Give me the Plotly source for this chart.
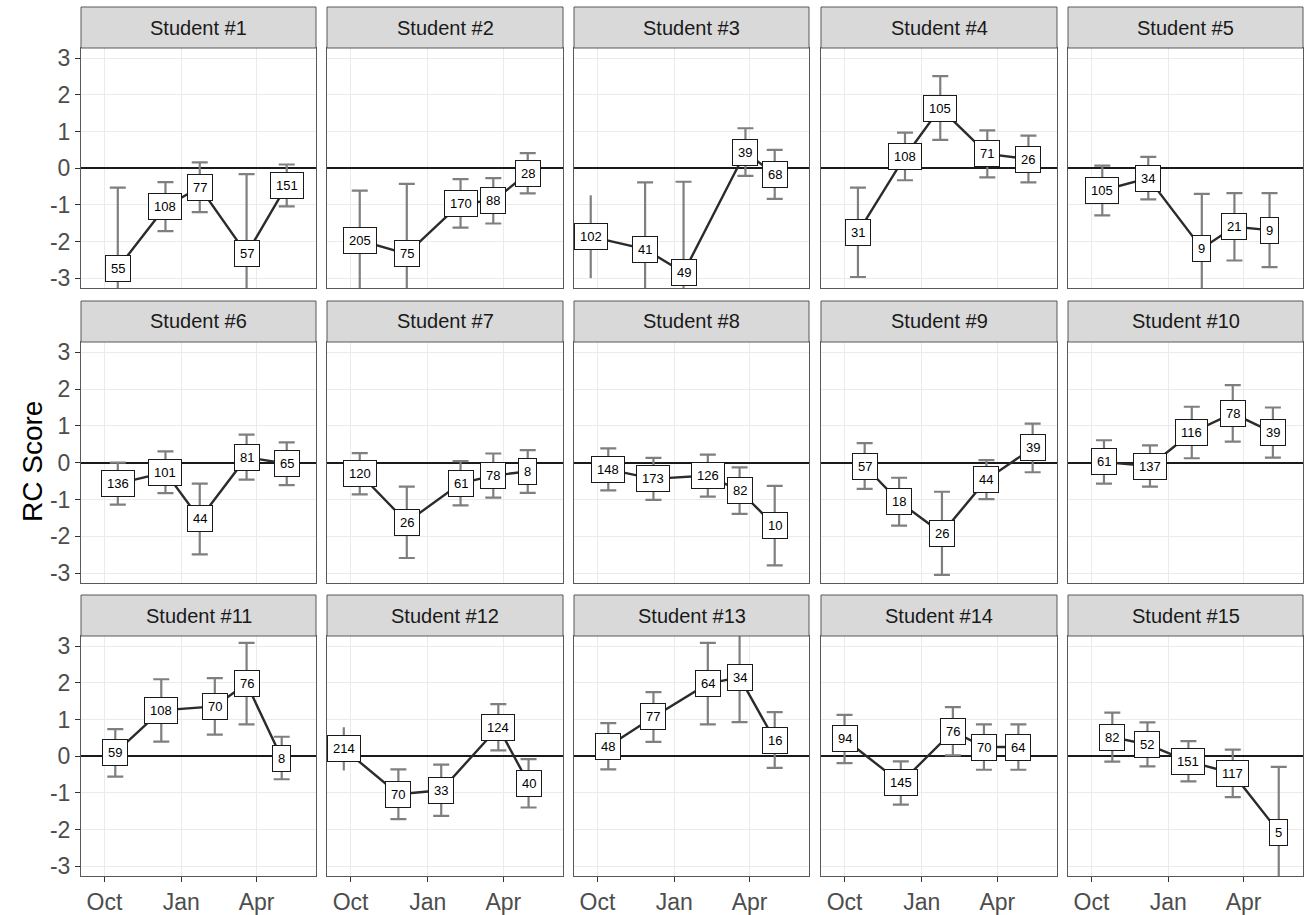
import plotly.graph_objects as go

# ---------------- data ----------------
students = [f"Student #{i}" for i in range(1, 16)]

dates = [
    ["2018-10-17", "2018-12-13", "2019-01-23", "2019-03-20", "2019-05-07"],
    ["2018-10-12", "2018-12-07", "2019-02-09", "2019-03-20", "2019-04-30"],
    ["2018-09-23", "2018-11-27", "2019-01-12", "2019-03-27", "2019-05-01"],
    ["2018-10-17", "2018-12-12", "2019-01-23", "2019-03-20", "2019-05-08"],
    ["2018-10-14", "2018-12-08", "2019-02-10", "2019-03-21", "2019-05-02"],
    ["2018-10-17", "2018-12-13", "2019-01-23", "2019-03-20", "2019-05-07"],
    ["2018-10-12", "2018-12-07", "2019-02-09", "2019-03-20", "2019-04-30"],
    ["2018-10-14", "2018-12-07", "2019-02-10", "2019-03-20", "2019-05-01"],
    ["2018-10-25", "2018-12-05", "2019-01-25", "2019-03-19", "2019-05-13"],
    ["2018-10-16", "2018-12-10", "2019-01-29", "2019-03-19", "2019-05-06"],
    ["2018-10-14", "2018-12-08", "2019-02-10", "2019-03-20", "2019-05-01"],
    ["2018-09-23", "2018-11-27", "2019-01-17", "2019-03-26", "2019-05-01"],
    ["2018-10-14", "2018-12-07", "2019-02-10", "2019-03-20", "2019-05-01"],
    ["2018-10-01", "2018-12-07", "2019-02-07", "2019-03-16", "2019-04-26"],
    ["2018-10-26", "2018-12-07", "2019-01-25", "2019-03-19", "2019-05-13"],
]

scores = [
    [-2.73, -1.05, -0.52, -2.34, -0.47],
    [-1.97, -2.34, -0.96, -0.89, -0.14],
    [-1.87, -2.21, -2.85, 0.44, -0.17],
    [-1.75, 0.32, 1.64, 0.39, 0.25],
    [-0.61, -0.27, -2.19, -1.60, -1.69],
    [-0.57, -0.26, -1.53, 0.15, -0.03],
    [-0.30, -1.62, -0.56, -0.35, -0.24],
    [-0.18, -0.44, -0.35, -0.76, -1.71],
    [-0.09, -1.06, -1.92, -0.46, 0.40],
    [0.02, -0.09, 0.82, 1.34, 0.82],
    [0.09, 1.25, 1.36, 1.98, -0.05],
    [0.20, -1.04, -0.93, 0.79, -0.74],
    [0.27, 1.07, 1.98, 2.15, 0.44],
    [0.47, -0.73, 0.68, 0.25, 0.25],
    [0.52, 0.32, -0.14, -0.47, -2.07],
]

errors = [
    [2.20, 0.67, 0.68, 2.18, 0.57],
    [1.36, 1.91, 0.66, 0.62, 0.55],
    [1.13, 1.82, 2.48, 0.65, 0.67],
    [1.22, 0.65, 0.87, 0.64, 0.64],
    [0.68, 0.58, 1.49, 0.92, 1.01],
    [0.57, 0.57, 0.96, 0.61, 0.58],
    [0.56, 0.97, 0.60, 0.60, 0.58],
    [0.57, 0.57, 0.57, 0.63, 1.08],
    [0.62, 0.65, 1.13, 0.53, 0.66],
    [0.59, 0.56, 0.70, 0.77, 0.68],
    [0.65, 0.85, 0.77, 1.11, 0.58],
    [0.59, 0.68, 0.70, 0.63, 0.66],
    [0.63, 0.68, 1.11, 1.22, 0.76],
    [0.66, 0.59, 0.66, 0.62, 0.62],
    [0.67, 0.60, 0.55, 0.65, 1.78],
]

counts = [
    [55, 108, 77, 57, 151],
    [205, 75, 170, 88, 28],
    [102, 41, 49, 39, 68],
    [31, 108, 105, 71, 26],
    [105, 34, 9, 21, 9],
    [136, 101, 44, 81, 65],
    [120, 26, 61, 78, 8],
    [148, 173, 126, 82, 10],
    [57, 18, 26, 44, 39],
    [61, 137, 116, 78, 39],
    [59, 108, 70, 76, 8],
    [214, 70, 33, 124, 40],
    [48, 77, 64, 34, 16],
    [94, 145, 76, 70, 64],
    [82, 52, 151, 117, 5],
]

x_tick_vals = ["2018-10-01", "2019-01-01", "2019-04-01"]
x_tick_text = ["Oct", "Jan", "Apr"]
y_tick_vals = [-3, -2, -1, 0, 1, 2, 3]
y_tick_text = ["-3", "-2", "-1", "0", "1", "2", "3"]
y_title = "RC Score"

# first-point error bars drawn without caps in the original
no_cap = {2: [0], 11: [0]}

# ---------------- layout geometry (pixels) ----------------
W, H = 1305, 915
col_px = [(81, 316), (327, 563), (574, 809), (821, 1057), (1068, 1303)]
row_px = [(48, 288), (342, 583), (636, 876)]  # plot areas (top, bottom)
strip_h = 41
x_range = ["2018-09-03", "2019-06-11"]
y_range = [-3.27, 3.28]

FONT = "Liberation Sans, Arial, Helvetica, sans-serif"
GRID = "#EBEBEB"
BORDER = "#595959"
ERR_COLOR = "#7F7F7F"
LINE_COLOR = "#2B2B2B"

fig = go.Figure()
layout = dict(
    width=W, height=H,
    margin=dict(l=0, r=0, t=0, b=0, autoexpand=False),
    paper_bgcolor="white", plot_bgcolor="white",
    showlegend=False,
    font=dict(family=FONT, color="#4D4D4D"),
)
annotations = []
shapes = []

for i, name in enumerate(students):
    r, c = divmod(i, 5)
    n = i + 1
    xa = "xaxis" if n == 1 else f"xaxis{n}"
    ya = "yaxis" if n == 1 else f"yaxis{n}"
    xr = "x" if n == 1 else f"x{n}"
    yr = "y" if n == 1 else f"y{n}"
    x0, x1 = col_px[c]
    top, bot = row_px[r]

    layout[xa] = dict(
        domain=[x0 / W, x1 / W], anchor=yr, type="date", range=x_range,
        tickvals=x_tick_vals, ticktext=x_tick_text,
        showticklabels=(r == 2), ticks="outside" if r == 2 else "",
        ticklen=5, tickcolor="#333333", tickwidth=1,
        tickfont=dict(size=23, color="#4D4D4D", family=FONT),
        showgrid=True, gridcolor=GRID, gridwidth=1.2, zeroline=False,
        showline=True, mirror=True, linecolor=BORDER, linewidth=1,
    )
    layout[ya] = dict(
        domain=[1 - bot / H, 1 - top / H], anchor=xr, range=y_range,
        tickvals=y_tick_vals, ticktext=y_tick_text,
        showticklabels=(c == 0), ticks="outside" if c == 0 else "",
        ticklen=5, tickcolor="#333333", tickwidth=1,
        tickfont=dict(size=23, color="#4D4D4D", family=FONT),
        showgrid=True, gridcolor=GRID, gridwidth=1.2,
        zeroline=True, zerolinecolor="#1A1A1A", zerolinewidth=1.6,
        showline=True, mirror=True, linecolor=BORDER, linewidth=1,
    )

    # strip
    shapes.append(dict(type="rect", xref="paper", yref="paper",
                       x0=x0 / W, x1=x1 / W,
                       y0=1 - top / H, y1=1 - (top - strip_h) / H,
                       fillcolor="#D9D9D9", line=dict(color=BORDER, width=1)))
    annotations.append(dict(xref="paper", yref="paper",
                            x=(x0 + x1) / 2 / W, y=1 - (top - strip_h / 2) / H,
                            text=name, showarrow=False,
                            font=dict(size=20, color="#1A1A1A", family=FONT),
                            xanchor="center", yanchor="middle"))

    d, s, e, k = dates[i], scores[i], errors[i], counts[i]
    capless = no_cap.get(i, [])
    cap_idx = [j for j in range(len(d)) if j not in capless]

    # error bars (with caps)
    fig.add_trace(go.Scatter(
        x=[d[j] for j in cap_idx], y=[s[j] for j in cap_idx],
        mode="markers", marker=dict(size=1, opacity=0),
        error_y=dict(type="data", array=[e[j] for j in cap_idx], symmetric=True,
                     color=ERR_COLOR, thickness=2.2, width=8),
        xaxis=xr, yaxis=yr, hoverinfo="skip"))
    if capless:
        fig.add_trace(go.Scatter(
            x=[d[j] for j in capless], y=[s[j] for j in capless],
            mode="markers", marker=dict(size=1, opacity=0),
            error_y=dict(type="data", array=[e[j] for j in capless], symmetric=True,
                         color=ERR_COLOR, thickness=2.2, width=0),
            xaxis=xr, yaxis=yr, hoverinfo="skip"))
    # connecting line
    fig.add_trace(go.Scatter(
        x=d, y=s, mode="lines",
        line=dict(color=LINE_COLOR, width=2.4),
        xaxis=xr, yaxis=yr, hoverinfo="skip"))

    # count labels
    for j in range(len(d)):
        annotations.append(dict(
            xref=xr, yref=yr, x=d[j], y=s[j], text=str(k[j]),
            showarrow=False, bgcolor="white", bordercolor="#1A1A1A",
            borderwidth=1, borderpad=5,
            font=dict(size=13, color="black", family=FONT),
            xanchor="center", yanchor="middle"))

# y-axis title
annotations.append(dict(xref="paper", yref="paper", x=32 / W,
                        y=1 - ((row_px[0][0] + row_px[2][1]) / 2) / H,
                        text=y_title, showarrow=False, textangle=-90,
                        font=dict(size=28, color="black", family=FONT),
                        xanchor="center", yanchor="middle"))

layout["annotations"] = annotations
layout["shapes"] = shapes
fig.update_layout(**layout)

fig.write_html("out.html",
               config={"displayModeBar": False},
               post_script="document.body.style.margin='0';"
                           "document.body.style.overflow='hidden';")
